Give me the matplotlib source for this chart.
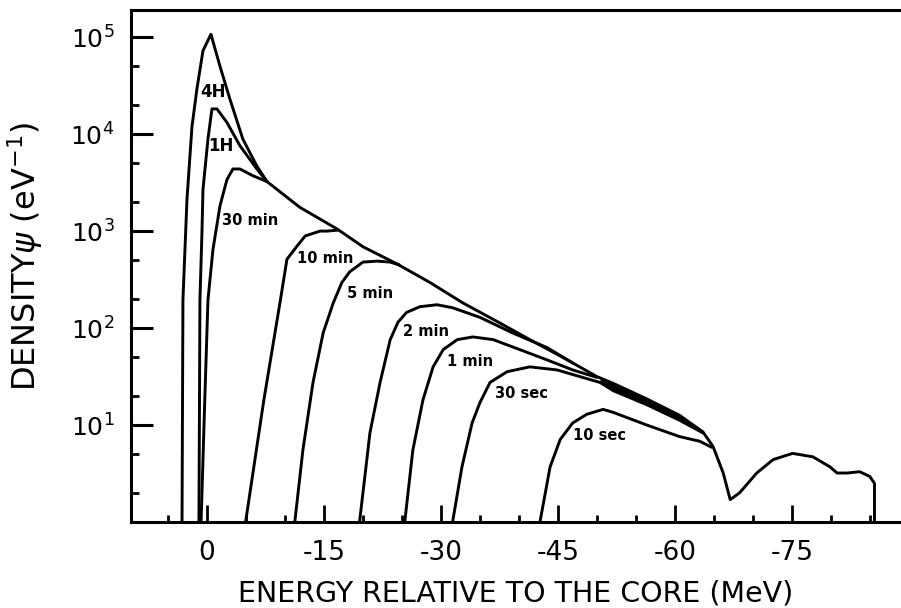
import matplotlib
matplotlib.use('Agg')
import matplotlib.pyplot as plt
import numpy as np
from matplotlib.ticker import FixedLocator, FixedFormatter, LogLocator, NullFormatter

plt.rcParams['font.family'] = ['DejaVu Sans']
plt.rcParams['axes.unicode_minus'] = False
plt.rcParams['mathtext.fontset'] = 'dejavusans'

# ---------------- data (energy in MeV relative to the core, density in 1/eV) ----------------
# common envelope shared by the long-time curves
env_energy = [-7.7, -11.9, -16.7, -20.0, -24.4, -28.6, -32.8, -37.2, -41.4, -45.6, -50.0,
              -52.1, -56.4, -60.6, -63.6, -64.9, -66.2, -67.1, -68.3, -70.5, -72.6, -75.1,
              -77.7, -79.9, -80.8, -82.1, -83.7, -85.0, -85.6, -85.6]
env_density = [3240, 1760, 1050, 690, 457, 295, 182, 117, 76, 50, 31.6,
               26.9, 18.6, 12.6, 8.5, 6.0, 3.2, 1.7, 2.0, 3.2, 4.4, 5.1,
               4.7, 3.7, 3.2, 3.2, 3.3, 2.95, 2.5, 0.9]

h4_energy = [3.2, 3.08, 2.56, 1.92, 1.28, 0.51, -0.51, -1.67, -2.95, -4.6, -6.4, -7.7]
h4_density = [0.9, 195, 2140, 12000, 29500, 72400, 107000, 50100, 22900, 8900, 4680, 3240]

h1_energy = [1.03, 0.9, 0.64, 0.51, -0.13, -0.64, -1.28, -2.56, -4.23, -6.4, -7.7]
h1_density = [0.9, 195, 977, 2690, 8900, 18200, 18200, 13200, 7590, 4370, 3240]

m30_energy = [0.77, 0.26, -0.13, -0.77, -1.67, -2.56, -3.33, -4.23, -5.9, -7.7]
m30_density = [0.9, 20.4, 195, 646, 1820, 3390, 4370, 4370, 3720, 3240]

m10_energy = [-4.87, -7.3, -9.36, -10.26, -11.5, -12.6, -14.5, -15.4, -16.8]
m10_density = [0.9, 18.2, 182, 513, 692, 891, 1000, 1000, 1023]

m5_energy = [-11.2, -12.3, -13.6, -14.9, -16.2, -17.3, -18.3, -20.0, -21.8, -23.5, -24.7]
m5_density = [0.9, 5.5, 27.5, 89, 182, 295, 380, 479, 490, 479, 447]

m2_energy = [-19.5, -20.9, -22.2, -23.5, -24.5, -25.6, -27.3, -29.5, -31.5, -35.0, -39.2, -43.6, -46.9]
m2_density = [0.9, 8.3, 27.5, 76, 115, 145, 166, 174, 162, 129, 89, 63, 43.7]

m1_energy = [-25.3, -26.4, -27.7, -29.0, -30.3, -32.1, -34.1, -36.7, -40.1, -43.6, -46.9, -50.0]
m1_density = [0.9, 5.5, 18.2, 39.8, 60, 76, 81, 76, 60, 47, 37, 31.0]

s30_energy = [-31.4, -32.7, -34.0, -35.0, -36.3, -38.5, -41.4, -44.9, -47.8, -50.4,
              -52.1, -56.4, -60.6, -63.6]
s30_density = [0.9, 3.7, 10.5, 17, 27.5, 35.5, 39.8, 37, 31.6, 27.5,
               22.6, 16.2, 11.2, 8.3]

s10_energy = [-42.6, -44.0, -45.3, -46.9, -48.7, -50.8, -52.1, -56.4, -60.6, -63.2, -64.7]
s10_density = [0.9, 3.7, 7.1, 10.5, 12.9, 14.5, 13.5, 10.0, 7.6, 6.8, 5.9]

# label text, anchor energy, anchor density
labels = ['4H', '1H', '30 min', '10 min', '5 min', '2 min', '1 min', '30 sec', '10 sec']
label_energy = [-0.77, -1.79, -1.92, -11.5, -17.9, -25.1, -30.8, -36.9, -46.9]
label_density = [27500, 7600, 1290, 525, 229, 93, 45.7, 20.9, 7.8]

xtick_values = [0, -15, -30, -45, -60, -75]
xtick_labels = ['0', '-15', '-30', '-45', '-60', '-75']
ytick_values = [1e1, 1e2, 1e3, 1e4, 1e5]
ytick_labels = [r'$10^{1}$', r'$10^{2}$', r'$10^{3}$', r'$10^{4}$', r'$10^{5}$']

# ---------------- figure ----------------
fig = plt.figure(figsize=(9.01, 6.08), dpi=100)
ax = fig.add_axes([131 / 901, 86 / 608, 770 / 901, 512 / 608])
ax.set_yscale('log')
ax.set_xlim(9.74, -89.0)
ax.set_ylim(1, 10 ** 5.28)

lw = 2.1
kw = dict(color='black', lw=lw, solid_joinstyle='round', solid_capstyle='round')
ax.plot(env_energy, env_density, **kw)
for e, d in [(h4_energy, h4_density), (h1_energy, h1_density), (m30_energy, m30_density),
             (m10_energy, m10_density), (m5_energy, m5_density), (m2_energy, m2_density),
             (m1_energy, m1_density), (s30_energy, s30_density), (s10_energy, s10_density)]:
    ax.plot(e, d, **kw)

# thick converging band between envelope and the short-time curves
band_e = s30_energy[9:]
env_interp = np.exp(np.interp(-np.array(band_e), -np.array(env_energy[:15]), np.log(env_density[:15])))
ax.fill_between(band_e, s30_density[9:], env_interp, color='black', lw=0)

for i, (t, e, d) in enumerate(zip(labels, label_energy, label_density)):
    ha = 'center' if i < 2 else 'left'
    ax.text(e, d, t, ha=ha, va='center', fontsize=12 if i < 2 else 10.5,
            fontweight='bold', color='black')

# axes styling
for side in ['left', 'bottom', 'top']:
    ax.spines[side].set_linewidth(2.2)
ax.spines['right'].set_visible(False)

ax.xaxis.set_major_locator(FixedLocator(xtick_values))
ax.xaxis.set_major_formatter(FixedFormatter(xtick_labels))
ax.xaxis.set_minor_locator(FixedLocator(list(range(5, -90, -5))))
ax.yaxis.set_major_locator(FixedLocator(ytick_values))
ax.yaxis.set_major_formatter(FixedFormatter(ytick_labels))
ax.yaxis.set_minor_locator(LogLocator(base=10, subs=(2.0, 5.0)))
ax.yaxis.set_minor_formatter(NullFormatter())

ax.tick_params(axis='x', which='major', direction='in', length=12, width=2, pad=13, labelsize=19)
ax.tick_params(axis='x', which='minor', direction='in', length=5, width=2)
ax.tick_params(axis='y', which='major', direction='in', length=16, width=2.2, pad=12, labelsize=18)
ax.tick_params(axis='y', which='minor', direction='in', length=6, width=2)
ax.tick_params(top=False, right=False, which='both')

ax.set_xlabel('ENERGY RELATIVE TO THE CORE (MeV)', fontsize=20.5)
ax.xaxis.set_label_coords(0.5, -0.113)
ax.set_ylabel(r'DENSITY$\psi$ (eV$^{-1}$)', fontsize=23)
ax.yaxis.set_label_coords(-0.112, 0.518)

fig.savefig('out.png', dpi=100)
